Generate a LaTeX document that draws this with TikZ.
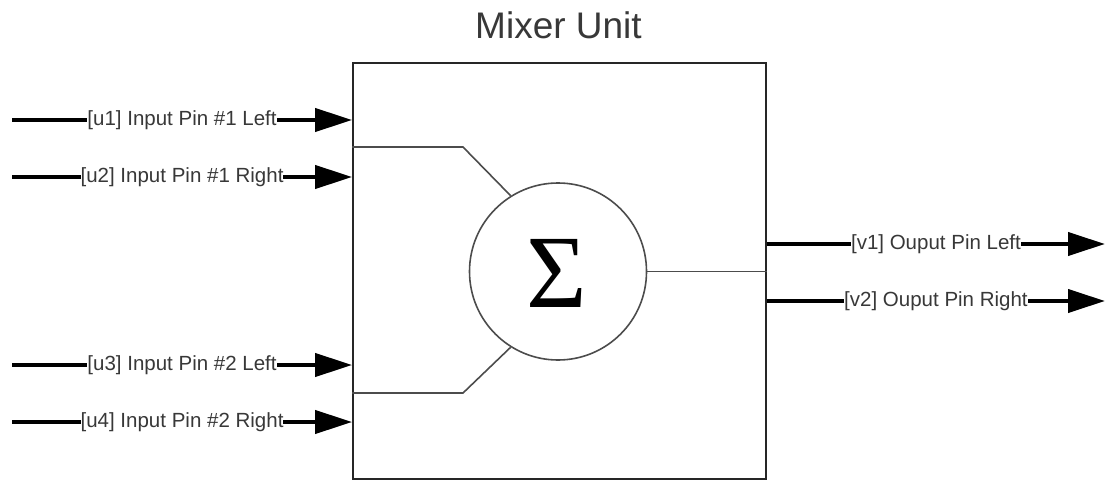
\documentclass[tikz,border=0pt]{standalone}
\usepackage{fontspec}
\setmainfont{Liberation Sans}
\newfontfamily\sigmafont{Liberation Serif}
\usetikzlibrary{arrows.meta}
\definecolor{txtgray}{gray}{0.22}
\definecolor{linegray}{gray}{0.3}
\tikzset{
  pinline/.style={line width=4pt, -{Triangle[length=37pt,width=23pt]}},
  pinlabel/.style={fill=white, inner sep=0pt, text=txtgray, font=\fontsize{20.5}{22}\selectfont, midway},
  innerline/.style={draw=linegray, line width=1.6pt},
}
\begin{document}
\begin{tikzpicture}[x=1pt,y=-1pt]
\useasboundingbox (0,0) rectangle (1107,481);
\node[text=txtgray, font=\fontsize{37}{40}\selectfont, anchor=base] (title) at (558.5,39) {Mixer Unit};
\node[draw=black!85, line width=1.8pt, minimum width=413pt, minimum height=416pt, inner sep=0pt] (box) at (559.5,271) {};
\node[draw=linegray, line width=1.6pt, circle, minimum size=177pt, inner sep=0pt] (sum) at (558,271.5) {};
\node[font=\sigmafont\fontsize{104}{106}\selectfont] (sig) at (556.5,273) {Σ};
% inner wiring
\coordinate (a1) at (box.west |- 0,147);
\coordinate (a2) at (463,147);
\coordinate (b1) at (box.west |- 0,393);
\coordinate (b2) at (463,393);
\draw[innerline] (a1) -- (a2) -- (sum.122);
\draw[innerline] (b1) -- (b2) -- (sum.238);
\draw[innerline] (sum.east) -- (box.east |- sum.east);
% inputs
\coordinate (s1) at (12,120);
\coordinate (s2) at (12,177);
\coordinate (s3) at (12,365);
\coordinate (s4) at (12,422);
\coordinate (e1) at (box.west |- s1);
\coordinate (e2) at (box.west |- s2);
\coordinate (e3) at (box.west |- s3);
\coordinate (e4) at (box.west |- s4);
\draw[pinline] (s1) -- node[pinlabel] (l1) {[u1] Input Pin \#1 Left} (e1);
\draw[pinline] (s2) -- node[pinlabel] (l2) {[u2] Input Pin \#1 Right} (e2);
\draw[pinline] (s3) -- node[pinlabel] (l3) {[u3] Input Pin \#2 Left} (e3);
\draw[pinline] (s4) -- node[pinlabel] (l4) {[u4] Input Pin \#2 Right} (e4);
% outputs
\coordinate (o1) at (box.east |- 0,244);
\coordinate (o2) at (box.east |- 0,301);
\coordinate (t1) at (1105,244);
\coordinate (t2) at (1105,301);
\draw[pinline] (o1) -- node[pinlabel] (m1) {[v1] Ouput Pin Left} (t1);
\draw[pinline] (o2) -- node[pinlabel] (m2) {[v2] Ouput Pin Right} (t2);
\end{tikzpicture}
\end{document}
